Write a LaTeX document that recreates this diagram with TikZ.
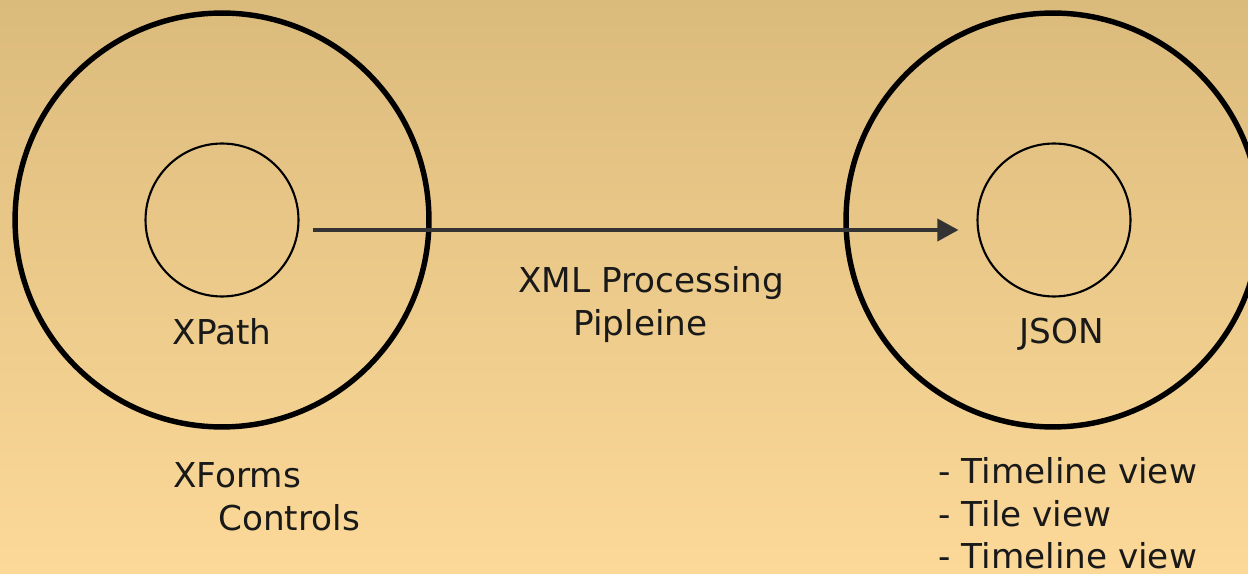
\documentclass[tikz,border=0pt]{standalone}
\usepackage{fontspec}
\setmainfont{DejaVu Sans}
\usetikzlibrary{arrows.meta}
\definecolor{bgtop}{HTML}{DBBB7C}
\definecolor{bgbottom}{HTML}{FCD999}

\begin{document}
\begin{tikzpicture}[x=0.02cm,y=0.02cm,>={Triangle[length=12pt,width=12.5pt]},
        outerring/.style={circle,draw,line width=3.1pt,minimum size=8.28cm,inner sep=0pt},
        innerring/.style={circle,draw,line width=1.2pt,minimum size=3.06cm,inner sep=0pt},
        txt/.style={font=\fontsize{19.5}{24}\selectfont,text=black!90,inner sep=0pt}]
                \useasboundingbox (0,0) rectangle (1248,-574);
                \shade[top color=bgtop,bottom color=bgbottom] (0,0) rectangle (1248,-574);
                \node[outerring] (xforms) at (222,-220) {};
                \node[innerring] (xpath) at (222,-220) {};
                \node[outerring] (views) at (1053,-220) {};
                \node[innerring] (json) at (1054,-220) {};
                % labels
                \node[txt,anchor=base] (xpathlbl) at (222,-344) {XPath};
                \node[txt,anchor=base] (jsonlbl) at (1062,-343) {JSON};
                \node[txt,anchor=base west] (pipe1) at (518,-293) {XML Processing};
                \node[txt,anchor=base west] (pipe2) at (573,-336) {Pipleine};
                \node[txt,anchor=base west] (ctrl1) at (173,-487) {XForms};
                \node[txt,anchor=base west] (ctrl2) at (218,-530) {Controls};
                \node[txt,anchor=base west] (view1) at (938,-483) {- Timeline view};
                \node[txt,anchor=base west] (view2) at (938,-526) {- Tile view};
                \node[txt,anchor=base west] (view3) at (938,-568) {- Timeline view};
                % pipeline
                \draw[->,line width=2.2pt,black!80] ([shift={(13,-10)}]xpath.east) -- ([shift={(-18,-10)}]json.west);
\end{tikzpicture}
\end{document}
